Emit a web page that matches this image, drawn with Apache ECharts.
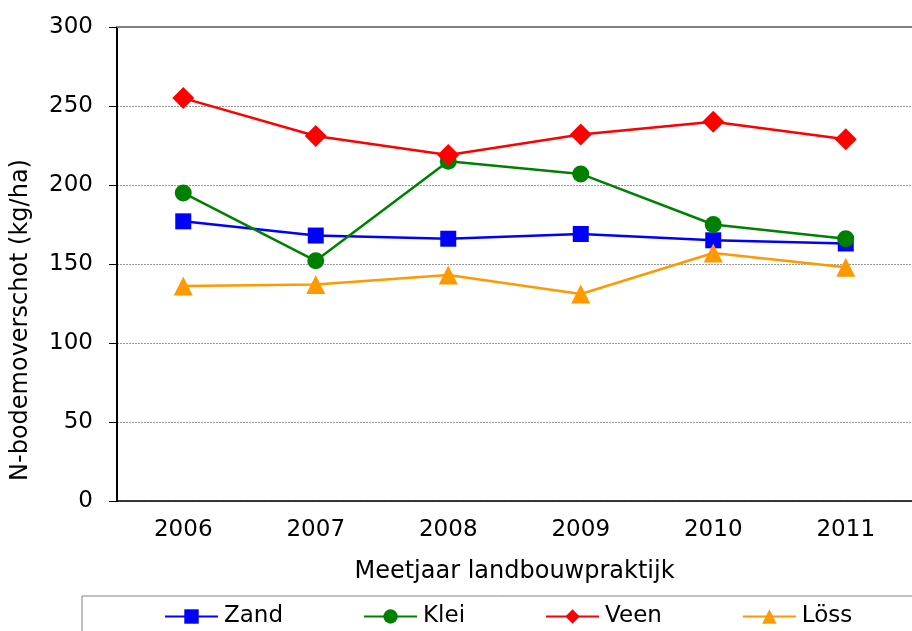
<!DOCTYPE html>
<html lang="nl">
<head>
    <meta charset="UTF-8">
    <title>N-bodemoverschot</title>
    <script src="https://cdn.jsdelivr.net/npm/echarts@6/dist/echarts.min.js"></script>
    <style>
        html, body { margin: 0; padding: 0; background: #fff; }
        #chart { width: 912px; height: 631px; }
    </style>
</head>
<body>
<div id="chart"></div>
<script>
    // jaren en waarden (kg/ha)
    const years = ['2006', '2007', '2008', '2009', '2010', '2011'];
    const zand = [177, 168, 166, 169, 165, 163];
    const klei = [195, 152, 215, 207, 175, 166];
    const veen = [255, 231, 219, 232, 240, 229];
    const loss = [136, 137, 143, 131, 157, 148];

    const font = 'DejaVu Sans';

    let myChart = echarts.init(document.getElementById('chart'));

    function line(name, data, color, symbol, size) {
        return {
            name: name,
            type: 'line',
            data: data,
            symbol: symbol,
            symbolSize: size,
            lineStyle: {color: color, width: 2.5},
            itemStyle: {color: color},
            animation: false
        };
    }

    let option = {
        animation: false,
        grid: {left: 117, top: 27, width: 803, height: 474, containLabel: false},
        legend: {
            left: 82,
            top: 596,
            width: 800,
            padding: [9, 82, 10, 82],
            borderColor: '#808080',
            borderWidth: 1,
            itemWidth: 53,
            itemHeight: 18,
            itemGap: 80,
            textStyle: {fontFamily: font, fontSize: 23, color: '#000', padding: [0, 0, 0, 1]},
            data: ['Zand', 'Klei', 'Veen', 'Löss']
        },
        xAxis: [{
            type: 'category',
            data: years,
            name: 'Meetjaar landbouwpraktijk',
            nameLocation: 'middle',
            nameGap: 59,
            nameTextStyle: {fontFamily: font, fontSize: 24, color: '#000'},
            axisLine: {lineStyle: {color: '#000', width: 1.5}},
            axisTick: {length: 7, lineStyle: {color: '#000'}},
            axisLabel: {fontFamily: font, fontSize: 23, color: '#000', margin: 18}
        }, {
            type: 'category',
            data: years,
            position: 'top',
            axisLine: {lineStyle: {color: '#808080', width: 2}},
            axisTick: {show: false},
            axisLabel: {show: false}
        }],
        yAxis: {
            type: 'value',
            min: 0,
            max: 300,
            interval: 50,
            name: 'N-bodemoverschot (kg/ha)',
            nameLocation: 'middle',
            nameRotate: 90,
            nameGap: 84,
            nameTextStyle: {fontFamily: font, fontSize: 24, color: '#000', padding: [0, 112, 0, 0]},
            axisLine: {show: true, lineStyle: {color: '#000', width: 2}},
            axisTick: {show: true, length: 8, lineStyle: {color: '#000'}},
            axisLabel: {fontFamily: font, fontSize: 23, color: '#000', margin: 24},
            splitLine: {lineStyle: {color: '#999', type: [2, 1], width: 1}}
        },
        series: [
            line('Zand', zand, '#0000ff', 'rect', 16),
            line('Klei', klei, '#008000', 'circle', 17),
            line('Veen', veen, '#ff0000', 'diamond', 22),
            line('Löss', loss, '#ff9900', 'triangle', 19)
        ]
    };
    myChart.setOption(option);
</script>
</body>
</html>
